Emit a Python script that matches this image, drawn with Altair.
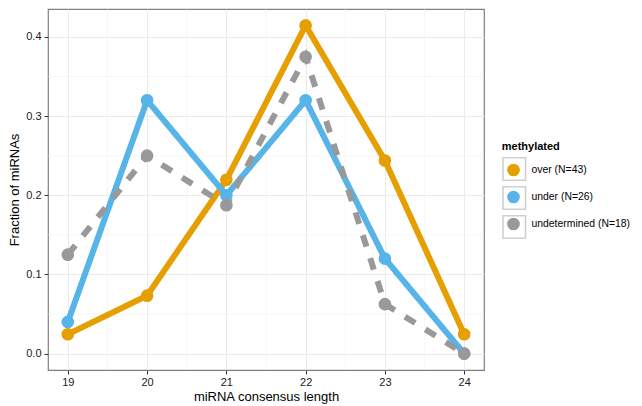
import altair as alt
import pandas as pd

lengths = [19, 20, 21, 22, 23, 24]
over = [0.0244, 0.0732, 0.2195, 0.4146, 0.2439, 0.0244]
under = [0.04, 0.32, 0.20, 0.32, 0.12, 0.0]
undetermined = [0.125, 0.25, 0.1875, 0.375, 0.0625, 0.0]
groups = ["over (N=43)", "under (N=26)", "undetermined (N=18)"]
colors = ["#E69F00", "#56B4E9", "#999999"]
x_major = [19, 20, 21, 22, 23, 24]
y_major = [0.0, 0.1, 0.2, 0.3, 0.4]
x_minor = [19.5, 20.5, 21.5, 22.5, 23.5]
y_minor = [0.05, 0.15, 0.25, 0.35]

rows = []
for g, vals in zip(groups, [over, under, undetermined]):
    for L, v in zip(lengths, vals):
        rows.append({"len": L, "frac": v, "methylated": g, "key": g})
df = pd.DataFrame(rows)

xs = alt.Scale(domain=[18.75, 24.25], nice=False, zero=False)
ys = alt.Scale(domain=[-0.0207, 0.4353], nice=False, zero=False)
FONT = "Liberation Sans"

minor_x = alt.Chart(pd.DataFrame({"v": x_minor})).mark_rule(color="#F2F2F2", strokeWidth=0.6).encode(
    x=alt.X("v:Q", scale=xs, axis=alt.Axis(values=x_major, format="d", title="miRNA consensus length")))
minor_y = alt.Chart(pd.DataFrame({"v": y_minor})).mark_rule(color="#F2F2F2", strokeWidth=0.6).encode(
    y=alt.Y("v:Q", scale=ys, axis=alt.Axis(values=y_major, format=".1f", title="Fraction of miRNAs")))

color_scale = alt.Scale(domain=groups, range=colors)

lines = alt.Chart(df).mark_line(strokeWidth=6).encode(
    x=alt.X("len:Q", scale=xs, axis=alt.Axis(values=x_major, format="d", title="miRNA consensus length")),
    y=alt.Y("frac:Q", scale=ys, axis=alt.Axis(values=y_major, format=".1f", title="Fraction of miRNAs")),
    color=alt.Color("methylated:N", scale=color_scale, legend=None),
    strokeDash=alt.StrokeDash("methylated:N", scale=alt.Scale(domain=groups, range=[[1, 0], [1, 0], [12, 12]]), legend=None),
    detail="methylated:N",
)

points = alt.Chart(df).mark_circle(size=160, opacity=1).encode(
    x=alt.X("len:Q", scale=xs),
    y=alt.Y("frac:Q", scale=ys),
    color=alt.Color("methylated:N", scale=color_scale,
                    legend=alt.Legend(title=None, orient="none", legendX=459, legendY=154.5,
                                      symbolType="circle", symbolSize=160, symbolStrokeWidth=0,
                                      symbolOpacity=1, rowPadding=14, labelFontSize=10.4,
                                      labelFont=FONT, labelColor="#000",
                                      labelOffset=11.5, padding=0, labelLimit=200)),
)

boxes = alt.Chart(df).mark_point(opacity=0).encode(
    x=alt.X("len:Q", scale=xs),
    y=alt.Y("frac:Q", scale=ys),
    shape=alt.Shape("key:N", scale=alt.Scale(domain=groups, range=["square", "square", "square"]),
                    legend=alt.Legend(title="methylated", orient="none", legendX=453.75, legendY=131.5,
                                      titleFont=FONT, titleFontSize=11, titleFontWeight="bold",
                                      titleColor="#000", titlePadding=5,
                                      symbolSize=506, symbolFillColor="transparent",
                                      symbolStrokeColor="#D0D0D0", symbolStrokeWidth=1.6,
                                      symbolOpacity=1, rowPadding=0, padding=0,
                                      labelExpr="''", labelOpacity=0)),
)

chart = alt.layer(minor_x, minor_y, lines, points, boxes).resolve_legend(
    color="independent", shape="independent"
).properties(
    width=436, height=361,
    autosize=alt.AutoSizeParams(type="none"),
    padding={"left": 40, "top": 1, "right": 150, "bottom": 34},
).configure_axis(
    grid=True, gridColor="#EBEBEB", gridWidth=1,
    domain=False, tickColor="#333", tickSize=4, tickWidth=1,
    labelFont=FONT, labelFontSize=11, labelColor="#1a1a1a", labelPadding=2,
    titleFont=FONT, titleFontSize=13, titleColor="#000", titleFontWeight="normal",
).configure_axisX(titlePadding=3).configure_axisY(titlePadding=4, labelPadding=3).configure_view(
    stroke="#7F7F7F", strokeWidth=1.2
)

chart.save("out.html", embed_options={"renderer": "svg", "actions": False})
